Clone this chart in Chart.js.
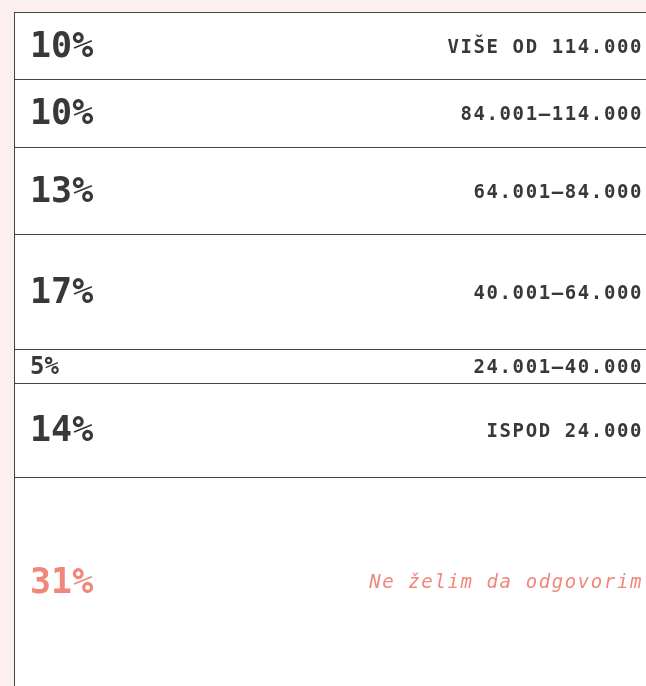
<!DOCTYPE html>
<html>
<head>
<meta charset="utf-8">
<script src="https://cdn.jsdelivr.net/npm/chart.js@4/dist/chart.umd.min.js"></script>
<style>
html,body{margin:0;padding:0;background:#fcefef;}
canvas{display:block;}
</style>
</head>
<body>
<canvas id="c" width="646" height="686"></canvas>
<script>
const categories = ['VIŠE OD 114.000','84.001–114.000','64.001–84.000','40.001–64.000','24.001–40.000','ISPOD 24.000','Ne želim da odgovorim'];
const values = [10,10,13,17,5,14,31];
const percentLabels = ['10%','10%','13%','17%','5%','14%','31%'];
const highlightIndex = 6;

const DARK = '#383838';
const SALMON = '#f0877a';
const LINE = '#444444';

const labelPlugin = {
  id: 'segLabels',
  afterDatasetsDraw(chart) {
    const ctx = chart.ctx;
    const area = chart.chartArea;
    chart.data.datasets.forEach((ds, i) => {
      const el = chart.getDatasetMeta(i).data[0];
      if (!el) return;
      const top = Math.min(el.y, el.base), bot = Math.max(el.y, el.base);
      const cy = (top + bot) / 2 + 2;
      const left = el.x - el.width / 2;
      const hl = i === highlightIndex;
      const small = values[i] < 8;
      ctx.save();
      // crisp separator on top edge of the segment
      ctx.strokeStyle = LINE;
      ctx.lineWidth = 1;
      ctx.beginPath();
      const ly = Math.round(top) + 0.5;
      ctx.moveTo(Math.round(left), ly);
      ctx.lineTo(area.right, ly);
      ctx.stroke();
      ctx.textBaseline = 'middle';
      ctx.fillStyle = hl ? SALMON : DARK;
      ctx.textAlign = 'left';
      ctx.letterSpacing = '0px';
      ctx.font = 'bold ' + (small ? 24 : 35) + 'px "DejaVu Sans Mono"';
      ctx.fillText(percentLabels[i], left + 16, cy);
      ctx.textAlign = 'right';
      if (hl) {
        ctx.font = 'italic 19px "DejaVu Sans Mono"';
      } else {
        ctx.font = 'bold 19px "DejaVu Sans Mono"';
      }
      ctx.letterSpacing = '1.6px';
      ctx.fillText(categories[i], 643, cy);
      ctx.restore();
    });
    // crisp left edge
    ctx.save();
    ctx.strokeStyle = LINE;
    ctx.lineWidth = 1;
    ctx.beginPath();
    ctx.moveTo(area.left + 0.5, area.top);
    ctx.lineTo(area.left + 0.5, area.bottom);
    ctx.stroke();
    ctx.restore();
  }
};

new Chart(document.getElementById('c'), {
  type: 'bar',
  data: {
    labels: [''],
    datasets: values.map((v, i) => ({
      label: categories[i],
      data: [v],
      backgroundColor: '#ffffff',
      borderColor: LINE,
      borderWidth: {top: 0, left: 1, right: 0, bottom: 0},
      borderSkipped: false,
      barPercentage: 1,
      categoryPercentage: 1
    }))
  },
  options: {
    responsive: false,
    animation: false,
    layout: {padding: {left: 14, top: 12, right: 0, bottom: 0}},
    plugins: {legend: {display: false}, tooltip: {enabled: false}},
    scales: {
      x: {stacked: true, display: false},
      y: {stacked: true, display: false, reverse: true, min: 0, max: 100}
    }
  },
  plugins: [labelPlugin]
});
</script>
</body>
</html>
